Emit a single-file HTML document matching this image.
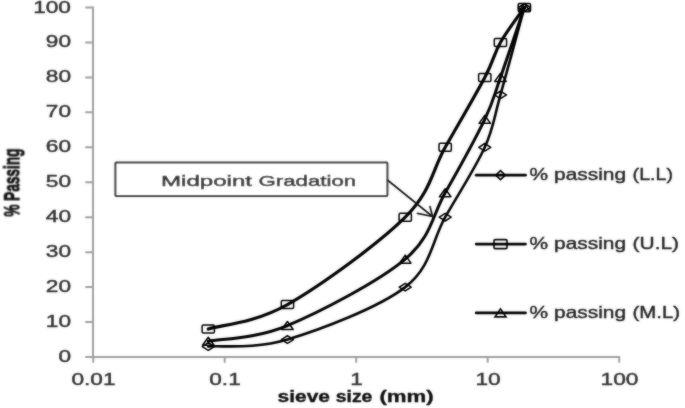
<!DOCTYPE html><html><head><meta charset="utf-8"><style>html,body{margin:0;padding:0;background:#fff;overflow:hidden;}svg{display:block;will-change:transform;}text{font-family:"Liberation Sans", sans-serif;}</style></head><body>
<svg width="685" height="408" viewBox="0 0 685 408">
<defs><filter id="b" filterUnits="userSpaceOnUse" x="0" y="0" width="685" height="408"><feGaussianBlur in="SourceGraphic" stdDeviation="0.8" result="bl"/><feComposite in="SourceGraphic" in2="bl" operator="arithmetic" k1="0" k2="0.55" k3="0.45" k4="0"/></filter></defs>
<rect width="685" height="408" fill="#fff"/>
<g filter="url(#b)">
<g stroke="#a0a0a0" stroke-width="2" fill="none" stroke-linecap="round">
<path d="M93,7.50 V357 H619"/>
<path d="M86,357.00 H93"/>
<path d="M86,322.05 H93"/>
<path d="M86,287.10 H93"/>
<path d="M86,252.15 H93"/>
<path d="M86,217.20 H93"/>
<path d="M86,182.25 H93"/>
<path d="M86,147.30 H93"/>
<path d="M86,112.35 H93"/>
<path d="M86,77.40 H93"/>
<path d="M86,42.45 H93"/>
<path d="M86,7.50 H93"/>
<path d="M93.20,357 V362"/>
<path d="M224.70,357 V362"/>
<path d="M356.20,357 V362"/>
<path d="M487.70,357 V362"/>
<path d="M619.20,357 V362"/>
</g>
<g fill="#333333" stroke="#333333" stroke-width="0.4" font-weight="normal" font-size="16" text-anchor="end">
<text x="71" y="362.00" textLength="12.6" lengthAdjust="spacingAndGlyphs">0</text>
<text x="71" y="327.05" textLength="25.2" lengthAdjust="spacingAndGlyphs">10</text>
<text x="71" y="292.10" textLength="25.2" lengthAdjust="spacingAndGlyphs">20</text>
<text x="71" y="257.15" textLength="25.2" lengthAdjust="spacingAndGlyphs">30</text>
<text x="71" y="222.20" textLength="25.2" lengthAdjust="spacingAndGlyphs">40</text>
<text x="71" y="187.25" textLength="25.2" lengthAdjust="spacingAndGlyphs">50</text>
<text x="71" y="152.30" textLength="25.2" lengthAdjust="spacingAndGlyphs">60</text>
<text x="71" y="117.35" textLength="25.2" lengthAdjust="spacingAndGlyphs">70</text>
<text x="71" y="82.40" textLength="25.2" lengthAdjust="spacingAndGlyphs">80</text>
<text x="71" y="47.45" textLength="25.2" lengthAdjust="spacingAndGlyphs">90</text>
<text x="71" y="12.50" textLength="37.8" lengthAdjust="spacingAndGlyphs">100</text>
</g>
<g fill="#333333" stroke="#333333" stroke-width="0.4" font-weight="normal" font-size="16" text-anchor="middle">
<text x="93.50" y="384.5" textLength="44.1" lengthAdjust="spacingAndGlyphs">0.01</text>
<text x="225.00" y="384.5" textLength="31.5" lengthAdjust="spacingAndGlyphs">0.1</text>
<text x="356.50" y="384.5" textLength="12.6" lengthAdjust="spacingAndGlyphs">1</text>
<text x="488.00" y="384.5" textLength="25.2" lengthAdjust="spacingAndGlyphs">10</text>
<text x="619.50" y="384.5" textLength="37.8" lengthAdjust="spacingAndGlyphs">100</text>
</g>
<text transform="translate(19.6,216.6) rotate(-90) scale(1,1.52)" font-weight="bold" font-size="14" fill="#111" stroke="#111" stroke-width="0.55" textLength="68" lengthAdjust="spacingAndGlyphs">% Passing</text>
<g font-weight="bold" font-size="16" fill="#111" stroke="#111" stroke-width="0.35"><text x="277.6" y="402" textLength="52.3" lengthAdjust="spacingAndGlyphs">sieve</text><text x="335.8" y="402" textLength="36.6" lengthAdjust="spacingAndGlyphs">size</text><text x="379.4" y="402" textLength="54.2" lengthAdjust="spacingAndGlyphs">(mm)</text></g>
<path d="M208.27,329.04 C221.47,324.96 254.61,323.21 287.44,304.57 C320.27,285.94 378.95,243.41 405.24,217.20 C431.53,190.99 431.93,170.60 445.19,147.30 C458.44,124.00 475.56,94.87 484.77,77.40 C493.98,59.92 493.85,54.10 500.44,42.45 C507.04,30.80 520.37,13.32 524.36,7.50" fill="none" stroke="#000" stroke-width="3.2" stroke-linejoin="round" stroke-linecap="round"/>
<path d="M208.27,341.27 C221.47,338.65 254.61,339.23 287.44,325.55 C320.27,311.86 378.95,281.27 405.24,259.14 C431.53,237.00 431.93,216.04 445.19,192.74 C458.44,169.44 475.56,138.56 484.77,119.34 C493.98,100.12 493.85,96.04 500.44,77.40 C507.04,58.76 520.37,19.15 524.36,7.50" fill="none" stroke="#000" stroke-width="3" stroke-linejoin="round" stroke-linecap="round"/>
<path d="M208.27,346.51 C221.47,345.35 254.61,349.43 287.44,339.52 C320.27,329.62 378.95,307.49 405.24,287.10 C431.53,266.71 431.93,240.50 445.19,217.20 C458.44,193.90 475.56,167.69 484.77,147.30 C493.98,126.91 493.85,118.17 500.44,94.88 C507.04,71.58 520.37,22.06 524.36,7.50" fill="none" stroke="#000" stroke-width="2.6" stroke-linejoin="round" stroke-linecap="round"/>
<g fill="none" stroke="#000" stroke-width="1.5" stroke-linejoin="round">
<rect x="202.12" y="325.04" width="12.3" height="8" rx="1.2"/>
<rect x="281.29" y="300.57" width="12.3" height="8" rx="1.2"/>
<rect x="399.09" y="213.20" width="12.3" height="8" rx="1.2"/>
<rect x="439.04" y="143.30" width="12.3" height="8" rx="1.2"/>
<rect x="478.62" y="73.40" width="12.3" height="8" rx="1.2"/>
<rect x="494.29" y="38.45" width="12.3" height="8" rx="1.2"/>
<rect x="518.21" y="3.50" width="12.3" height="8" rx="1.2"/>
<path d="M208.27,337.27 L214.02,345.27 L202.52,345.27 Z"/>
<path d="M287.44,321.55 L293.19,329.55 L281.69,329.55 Z"/>
<path d="M405.24,255.14 L410.99,263.14 L399.49,263.14 Z"/>
<path d="M445.19,188.74 L450.94,196.74 L439.44,196.74 Z"/>
<path d="M484.77,115.34 L490.52,123.34 L479.02,123.34 Z"/>
<path d="M500.44,73.40 L506.19,81.40 L494.69,81.40 Z"/>
<path d="M524.36,3.50 L530.11,11.50 L518.61,11.50 Z"/>
<path d="M208.27,342.71 L214.27,346.51 L208.27,350.31 L202.27,346.51 Z"/>
<path d="M287.44,335.72 L293.44,339.52 L287.44,343.32 L281.44,339.52 Z"/>
<path d="M405.24,283.30 L411.24,287.10 L405.24,290.90 L399.24,287.10 Z"/>
<path d="M445.19,213.40 L451.19,217.20 L445.19,221.00 L439.19,217.20 Z"/>
<path d="M484.77,143.50 L490.77,147.30 L484.77,151.10 L478.77,147.30 Z"/>
<path d="M500.44,91.08 L506.44,94.88 L500.44,98.67 L494.44,94.88 Z"/>
<path d="M524.36,3.70 L530.36,7.50 L524.36,11.30 L518.36,7.50 Z"/>
</g>
<rect x="115.4" y="162.6" width="272" height="33.3" rx="1" fill="#fff" stroke="#333" stroke-width="2"/>
<g font-size="14.8" fill="#1c1c1c" stroke="#1c1c1c" stroke-width="0.45"><text x="161" y="185.7" textLength="91" lengthAdjust="spacingAndGlyphs">Midpoint</text><text x="258.6" y="185.7" textLength="97.5" lengthAdjust="spacingAndGlyphs">Gradation</text></g>
<g stroke="#1a1a1a" stroke-width="1.7" fill="none" stroke-linecap="round"><path d="M387.4,180 L432.5,216.5"/><path d="M432.5,216.5 L430,206.5"/><path d="M432.5,216.5 L417.5,213.3"/></g>
<path d="M476.2,175.20 H525.5" stroke="#000" stroke-width="2.8" stroke-linecap="round"/>
<g fill="none" stroke="#000" stroke-width="1.6"><path d="M500.50,170.70 L505.25,175.20 L500.50,179.70 L495.75,175.20 Z"/></g>
<g font-size="16.5" fill="#262626" stroke="#262626" stroke-width="0.4"><text x="529.6" y="180.20" textLength="96.5" lengthAdjust="spacingAndGlyphs">% passing</text><text x="632.6" y="180.20" textLength="40.5" lengthAdjust="spacingAndGlyphs">(L.L)</text></g>
<path d="M476.2,244.10 H525.5" stroke="#000" stroke-width="2.8" stroke-linecap="round"/>
<g fill="none" stroke="#000" stroke-width="1.6"><rect x="494.00" y="239.60" width="13" height="9" rx="1.2"/></g>
<g font-size="16.5" fill="#262626" stroke="#262626" stroke-width="0.4"><text x="529.6" y="249.10" textLength="96.5" lengthAdjust="spacingAndGlyphs">% passing</text><text x="632.6" y="249.10" textLength="46.5" lengthAdjust="spacingAndGlyphs">(U.L)</text></g>
<path d="M476.2,312.90 H525.5" stroke="#000" stroke-width="2.8" stroke-linecap="round"/>
<g fill="none" stroke="#000" stroke-width="1.6"><path d="M500.50,308.90 L506.00,316.90 L495.00,316.90 Z"/></g>
<g font-size="16.5" fill="#262626" stroke="#262626" stroke-width="0.4"><text x="529.6" y="317.90" textLength="96.5" lengthAdjust="spacingAndGlyphs">% passing</text><text x="632.6" y="317.90" textLength="47.5" lengthAdjust="spacingAndGlyphs">(M.L)</text></g>
</g>
</svg></body></html>
